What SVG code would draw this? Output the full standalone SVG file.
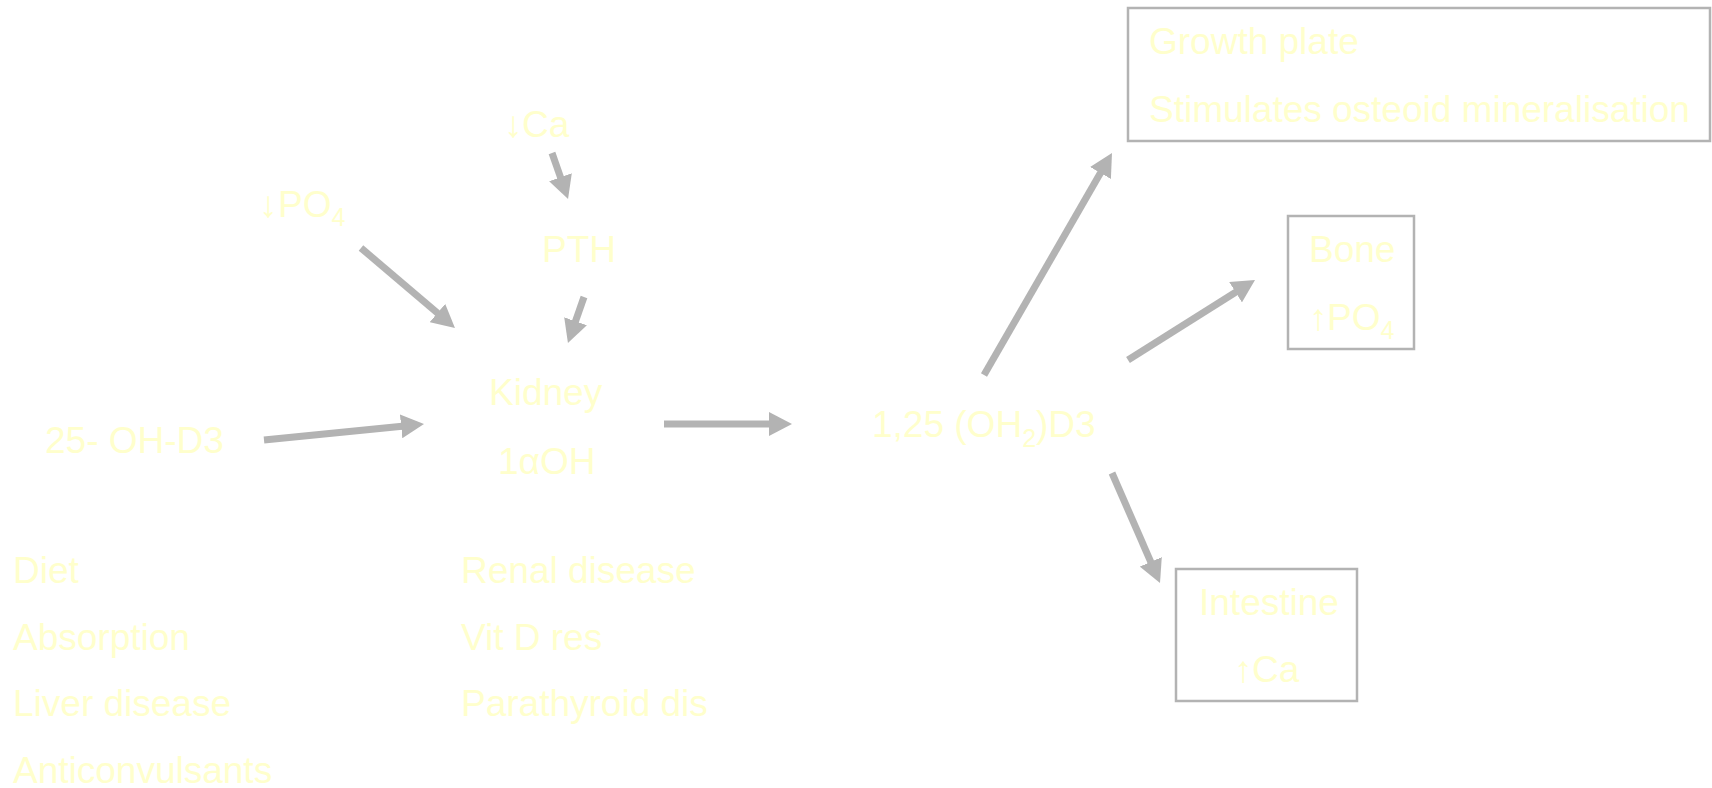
<svg xmlns="http://www.w3.org/2000/svg" width="1712" height="788" viewBox="0 0 1712 788">
<style>
.t{font-family:"Liberation Sans",Arial,sans-serif;font-size:37px;fill:#ffffcc}
.s{font-size:25px}
.box{fill:none;stroke:#b3b3b3;stroke-width:2.5}
.c line{stroke:#b3b3b3;stroke-width:7;marker-end:url(#ah)}
</style>
<defs>
<marker id="ah" markerUnits="userSpaceOnUse" markerWidth="24" markerHeight="24" refX="1" refY="12" orient="auto">
<path d="M0,0 L23,12 L0,24 z" fill="#b3b3b3"/>
</marker>
</defs>
<rect width="1712" height="788" fill="#ffffff"/>
<g id="connectors" class="c">
<line x1="552" y1="153" x2="560.8" y2="178.2"/>
<line x1="584" y1="297" x2="575.2" y2="322.2"/>
<line x1="361" y1="248" x2="438.2" y2="313.7"/>
<line x1="264" y1="440" x2="402.1" y2="426.2"/>
<line x1="664" y1="424" x2="770" y2="424"/>
<line x1="984" y1="375" x2="1101" y2="172.1"/>
<line x1="1128" y1="360" x2="1236.4" y2="291.7"/>
<line x1="1112" y1="473" x2="1151.2" y2="562.8"/>
</g>
<g id="ca-low"><text class="t" y="137"><tspan x="504">↓</tspan><tspan x="522">Ca</tspan></text></g>
<g id="po4-low"><text class="t" y="217"><tspan x="259">↓</tspan><tspan x="278">PO</tspan><tspan class="s" dy="9">4</tspan></text></g>
<g id="pth"><text class="t" x="542" y="262">PTH</text></g>
<g id="kidney"><text class="t" x="489" y="405">Kidney</text><text class="t" x="498" y="474">1αOH</text></g>
<g id="oh-d3"><text class="t" x="45" y="453">25- OH-D3</text></g>
<g id="calcitriol"><text class="t" x="872" y="437">1,25 (OH<tspan class="s" dy="10">2</tspan><tspan dy="-10">)D3</tspan></text></g>
<g id="growth-plate">
<rect class="box" x="1128" y="8" width="582" height="133"/>
<text class="t" x="1149" y="54">Growth plate</text>
<text class="t" x="1149" y="122">Stimulates osteoid mineralisation</text>
</g>
<g id="bone">
<rect class="box" x="1288" y="216" width="126" height="133"/>
<text class="t" x="1309" y="262">Bone</text>
<text class="t" y="330"><tspan x="1309">↑</tspan><tspan x="1327">PO</tspan><tspan class="s" dy="9">4</tspan></text>
</g>
<g id="intestine">
<rect class="box" x="1176" y="569" width="181" height="132"/>
<text class="t" x="1199" y="615">Intestine</text>
<text class="t" y="682"><tspan x="1234">↑</tspan><tspan x="1252">Ca</tspan></text>
</g>
<g id="causes-left">
<text class="t" x="13" y="583">Diet</text>
<text class="t" x="13" y="650">Absorption</text>
<text class="t" x="13" y="716">Liver disease</text>
<text class="t" x="13" y="783">Anticonvulsants</text>
</g>
<g id="causes-mid">
<text class="t" x="461" y="583">Renal disease</text>
<text class="t" x="461" y="650">Vit D res</text>
<text class="t" x="461" y="716">Parathyroid dis</text>
</g>
</svg>
